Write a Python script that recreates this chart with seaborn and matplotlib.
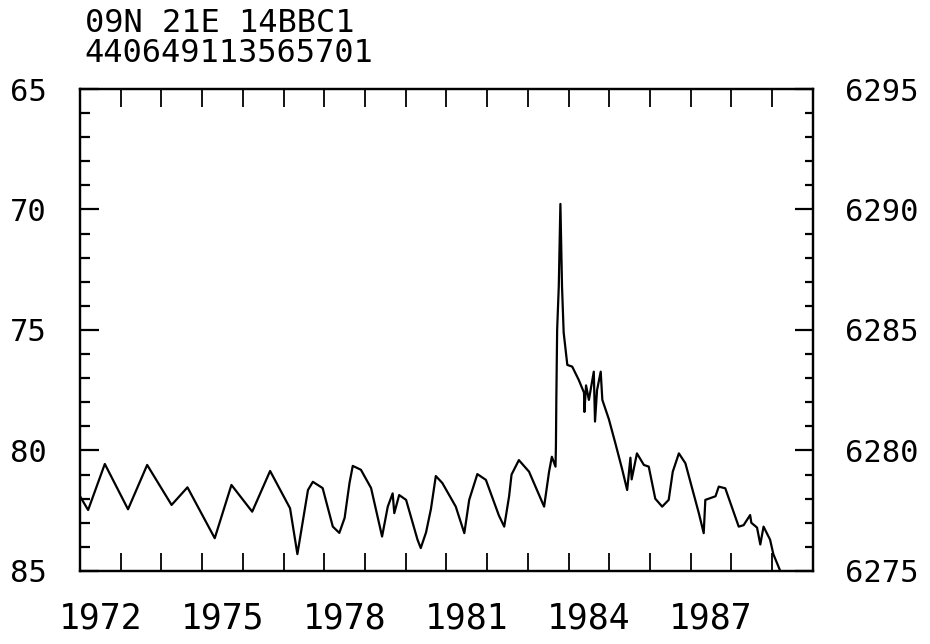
import numpy as np
import pandas as pd
import matplotlib
matplotlib.use("Agg")
import matplotlib.pyplot as plt
import seaborn as sns

sns.set_style("white")
plt.rcParams['font.family'] = ['DejaVu Sans Mono', 'DejaVu Sans']
plt.rcParams['text.color'] = 'black'
plt.rcParams['xtick.color'] = 'black'
plt.rcParams['ytick.color'] = 'black'
plt.rcParams['axes.edgecolor'] = 'black'

# site labels
site_name = "09N 21E 14BBC1"
site_id = "440649113565701"

# water level readings: decimal year, depth below land surface (ft)
years = [1972.00, 1972.20, 1972.61, 1973.18, 1973.65, 1974.25, 1974.64, 1975.31,
         1975.72, 1976.23, 1976.67, 1977.16, 1977.34, 1977.60, 1977.72, 1977.96,
         1978.21, 1978.37, 1978.50, 1978.62, 1978.70, 1978.90, 1979.15, 1979.42,
         1979.56, 1979.68, 1979.72, 1979.84, 1980.01, 1980.29, 1980.37, 1980.50,
         1980.62, 1980.74, 1980.90, 1981.23, 1981.44, 1981.56, 1981.76, 1981.97,
         1982.29, 1982.42, 1982.54, 1982.60, 1982.78, 1983.03, 1983.40, 1983.52,
         1983.59, 1983.68, 1983.69, 1983.70, 1983.72, 1983.76, 1983.80, 1983.84,
         1983.88, 1983.97, 1984.09, 1984.25, 1984.38, 1984.39, 1984.43, 1984.50,
         1984.62, 1984.65, 1984.70, 1984.79, 1984.83, 1984.99, 1985.15, 1985.32,
         1985.44, 1985.52, 1985.55, 1985.68, 1985.85, 1985.97, 1986.13, 1986.30,
         1986.46, 1986.56, 1986.71, 1986.87, 1987.20, 1987.32, 1987.36, 1987.61,
         1987.69, 1987.85, 1988.18, 1988.30, 1988.46, 1988.49, 1988.63, 1988.71,
         1988.79, 1988.95, 1989.03, 1989.20]
depth = [81.90, 82.47, 80.56, 82.44, 80.60, 82.26, 81.53, 83.64,
         81.43, 82.54, 80.85, 82.40, 84.30, 81.64, 81.30, 81.56,
         83.16, 83.42, 82.80, 81.35, 80.64, 80.80, 81.56, 83.57,
         82.33, 81.78, 82.60, 81.85, 82.05, 83.70, 84.05, 83.40,
         82.43, 81.06, 81.35, 82.33, 83.43, 82.05, 80.98, 81.22,
         82.70, 83.16, 81.90, 81.00, 80.40, 80.88, 82.33, 80.90,
         80.26, 80.67, 79.84, 77.90, 75.00, 73.20, 69.77, 73.20,
         75.10, 76.45, 76.52, 77.07, 77.60, 78.40, 77.30, 77.90,
         76.73, 78.80, 77.50, 76.73, 77.90, 78.70, 79.70, 80.80,
         81.64, 80.30, 81.20, 80.12, 80.60, 80.67, 82.00, 82.33,
         82.05, 80.88, 80.12, 80.53, 82.60, 83.43, 82.05, 81.90,
         81.50, 81.57, 83.16, 83.10, 82.68, 83.00, 83.20, 83.90,
         83.16, 83.70, 84.30, 85.00]

land_surface = 6360  # elevation = land_surface - depth
label_years = [1972, 1975, 1978, 1981, 1984, 1987]

df = pd.DataFrame({"year": years, "depth": depth})

fig = plt.figure(figsize=(9.3, 6.44), dpi=100)
ax = fig.add_axes([0.086, 0.1134, 0.788, 0.7484])

sns.lineplot(data=df, x="year", y="depth", ax=ax, color="black", linewidth=1.6,
             estimator=None, sort=False)

ax.set_xlim(1972, 1990)
ax.set_ylim(85, 65)
ax.set_xlabel("")
ax.set_ylabel("")

for s in ax.spines.values():
    s.set_linewidth(1.6)
    s.set_color("black")

# x ticks: every year, labels centred in the year
ax.set_xticks(range(1972, 1991))
ax.set_xticklabels([])
ax.set_xticks([y + 0.5 for y in label_years], minor=True)
ax.set_xticklabels([str(y) for y in label_years], minor=True)
ax.tick_params(axis="x", which="major", direction="in", length=13, width=1.3,
               top=True, bottom=True, color="black")
ax.tick_params(axis="x", which="minor", length=0, pad=22, labelsize=25)

# left y ticks
ax.set_yticks([65, 70, 75, 80, 85])
ax.set_yticks(range(65, 86), minor=True)
ax.tick_params(axis="y", which="major", direction="in", length=14, width=1.6,
               pad=24, labelsize=22, left=True, right=False)
ax.tick_params(axis="y", which="minor", direction="in", length=7, width=1.6,
               left=True, right=False)

# right y axis: elevation
ax2 = ax.twinx()
ax2.set_ylim(land_surface - 85, land_surface - 65)
ax2.set_yticks([6275, 6280, 6285, 6290, 6295])
ax2.set_yticks(range(6275, 6296), minor=True)
ax2.tick_params(axis="y", which="major", direction="in", length=13, width=1.6,
                pad=23, labelsize=22)
ax2.tick_params(axis="y", which="minor", direction="in", length=6, width=1.6)
for s in ax2.spines.values():
    s.set_linewidth(1.6)
    s.set_color("black")
ax2.grid(False)

fig.text(0.091, 0.904, site_name + "\n" + site_id, fontsize=23,
         ha="left", va="baseline", linespacing=0.95)

fig.savefig("out.png", dpi=100, facecolor="white")
